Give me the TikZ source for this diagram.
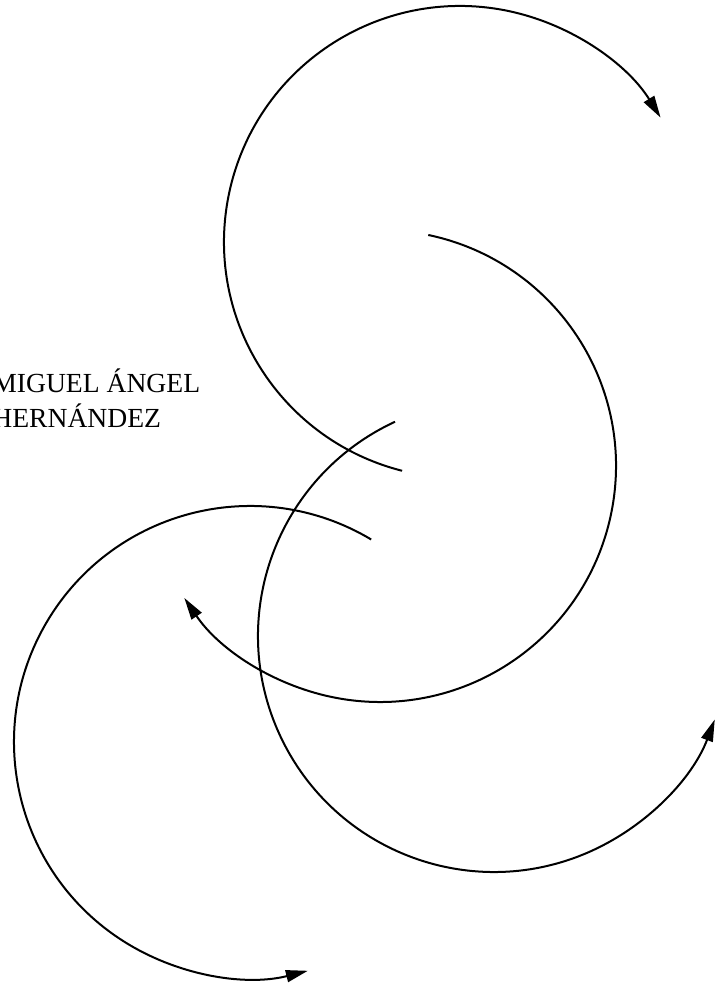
\documentclass[tikz,border=0pt]{standalone}
\usepackage{fontspec}
\setmainfont{Liberation Serif}
\usetikzlibrary{arrows.meta}

\begin{document}
\begin{tikzpicture}[x=0.5pt, y=0.5pt,
  swirl/.style={line width=1pt, draw=black, -{Triangle[length=11pt, width=6pt]}},
  author/.style={anchor=base west, inner sep=0pt, align=left,
    font=\fontsize{13.8}{17.5}\selectfont}
]
  \clip (0,0) rectangle (723,984);
  % centres of the four circles
  \coordinate (ca) at (460,742);
  \coordinate (cb) at (380,518);
  \coordinate (cc) at (494,348);
  \coordinate (cd) at (250,242);
  \node[author] (name) at (-8,556) {MIGUEL ÁNGEL\\HERNÁNDEZ};
  \draw[swirl] ([shift={(255.8:236)}]ca) arc[start angle=255.8, end angle=31.8, radius=236];
  \draw[swirl] ([shift={(78.2:236)}]cb) arc[start angle=78.2, end angle=-146, radius=236];
  \draw[swirl] ([shift={(114.8:236)}]cc) arc[start angle=114.8, end angle=339.3, radius=236];
  \draw[swirl] ([shift={(59.1:236)}]cd) arc[start angle=59.1, end angle=284.2, radius=236];
\end{tikzpicture}
\end{document}
